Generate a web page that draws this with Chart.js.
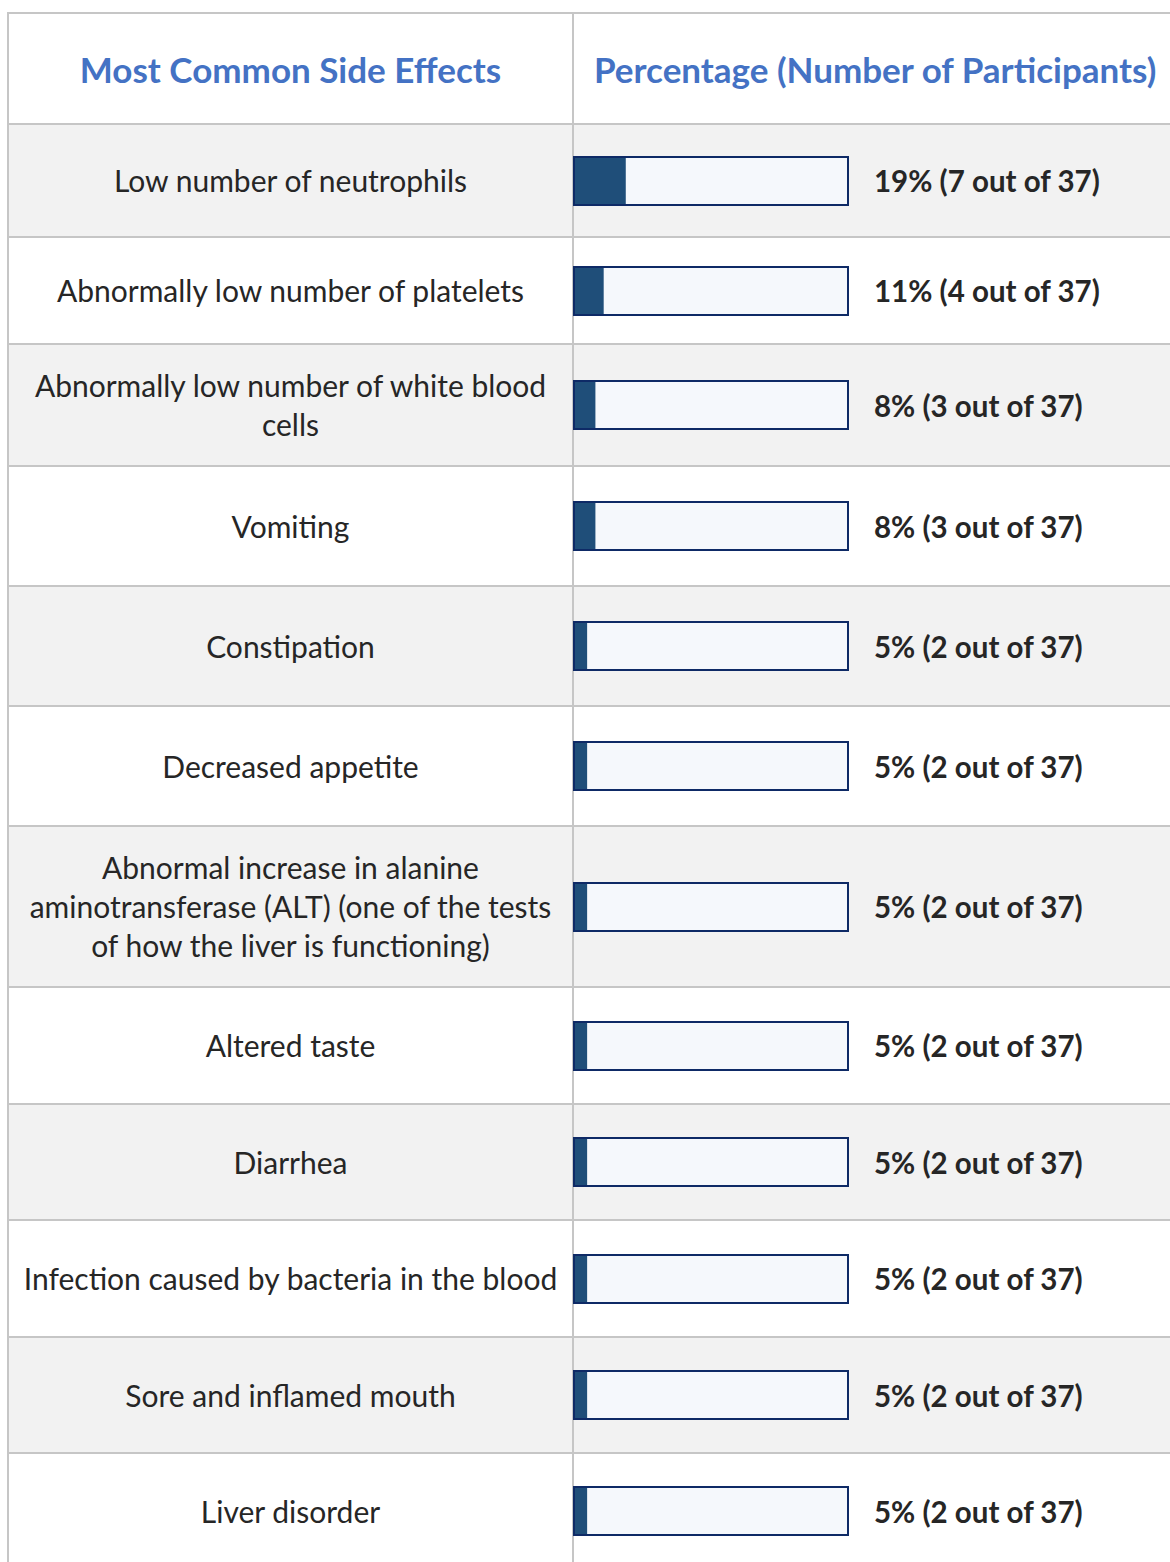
<!DOCTYPE html>
<html>
<head>
  <title>Most Common Side Effects</title>
  <style>
    html, body {
      margin: 0;
      padding: 0;
      background: #ffffff;
      overflow: hidden;
    }
    table {
      position: absolute;
      left: 7px;
      top: 12px;
      border-collapse: collapse;
      width: 1180px;
      table-layout: fixed;
      font-family: Lato, "Open Sans", sans-serif;
    }
    td, th {
      border: 2px solid #c6c6c6;
      padding: 0;
      vertical-align: middle;
    }
    th {
      color: #4472c4;
      font-size: 35px;
      font-weight: bold;
      height: 109px;
    }
    th.effect {
      text-align: center;
    }
    th.pct {
      text-align: left;
      padding-left: 20px;
      white-space: nowrap;
    }
    td.effect {
      text-align: center;
      color: #262626;
      font-size: 30px;
      line-height: 39px;
      padding: 0 12px;
    }
    tr.grey td {
      background-color: #f2f2f2;
    }
    .cell {
      display: flex;
      align-items: center;
      margin-left: -1px;
    }
    .bar {
      width: 276px;
      height: 50px;
      position: relative;
    }
    .value {
      margin-left: 25px;
      font-size: 29.5px;
      font-weight: bold;
      color: #262626;
      white-space: nowrap;
    }
  </style>
  <script src="https://cdn.jsdelivr.net/npm/chart.js"></script>
</head>
<body>
  <table id="tbl">
    <colgroup>
      <col style="width:565px">
      <col>
    </colgroup>
    <tr>
      <th class="effect">Most Common Side Effects</th>
      <th class="pct">Percentage (Number of Participants)</th>
    </tr>
  </table>

  <script>
    const effects = [
      'Low number of neutrophils',
      'Abnormally low number of platelets',
      'Abnormally low number of white blood cells',
      'Vomiting',
      'Constipation',
      'Decreased appetite',
      'Abnormal increase in alanine aminotransferase (ALT) (one of the tests of how the liver is functioning)',
      'Altered taste',
      'Diarrhea',
      'Infection caused by bacteria in the blood',
      'Sore and inflamed mouth',
      'Liver disorder'
    ];
    const percents = [19, 11, 8, 8, 5, 5, 5, 5, 5, 5, 5, 5];
    const counts = [7, 4, 3, 3, 2, 2, 2, 2, 2, 2, 2, 2];
    const total = 37;

    const rowHeights = [113, 107, 122, 120, 120, 120, 161, 117, 116, 117, 116, 116];

    // outline around the whole bar area
    const outlinePlugin = {
      id: 'outline',
      afterDatasetsDraw(chart) {
        const a = chart.chartArea;
        const ctx = chart.ctx;
        ctx.save();
        ctx.strokeStyle = '#0e2a66';
        ctx.lineWidth = 2;
        ctx.strokeRect(a.left + 1, a.top + 1, a.right - a.left - 2, a.bottom - a.top - 2);
        ctx.restore();
      }
    };

    function createBar(container, pct) {
      const canvas = document.createElement('canvas');
      container.appendChild(canvas);
      return new Chart(canvas.getContext('2d'), {
        type: 'bar',
        data: {
          labels: [''],
          datasets: [
            {
              data: [pct],
              backgroundColor: '#1f4e79',
              borderWidth: 0,
              barPercentage: 1,
              categoryPercentage: 1
            },
            {
              data: [100 - pct],
              backgroundColor: '#f5f8fc',
              borderWidth: 0,
              barPercentage: 1,
              categoryPercentage: 1
            }
          ]
        },
        options: {
          indexAxis: 'y',
          responsive: true,
          maintainAspectRatio: false,
          animation: false,
          events: [],
          layout: { padding: 0 },
          plugins: {
            legend: { display: false },
            tooltip: { enabled: false }
          },
          scales: {
            x: { stacked: true, min: 0, max: 100, display: false },
            y: { stacked: true, display: false }
          }
        },
        plugins: [outlinePlugin]
      });
    }

    document.addEventListener('DOMContentLoaded', function () {
      const tbl = document.getElementById('tbl');
      effects.forEach(function (name, i) {
        const tr = document.createElement('tr');
        tr.style.height = rowHeights[i] + 'px';
        if (i % 2 === 0) tr.className = 'grey';

        const td1 = document.createElement('td');
        td1.className = 'effect';
        td1.textContent = name;
        tr.appendChild(td1);

        const td2 = document.createElement('td');
        const cell = document.createElement('div');
        cell.className = 'cell';
        const bar = document.createElement('div');
        bar.className = 'bar';
        const val = document.createElement('div');
        val.className = 'value';
        val.textContent = percents[i] + '% (' + counts[i] + ' out of ' + total + ')';
        cell.appendChild(bar);
        cell.appendChild(val);
        td2.appendChild(cell);
        tr.appendChild(td2);

        tbl.appendChild(tr);
        createBar(bar, percents[i]);
      });
    });
  </script>
</body>
</html>
